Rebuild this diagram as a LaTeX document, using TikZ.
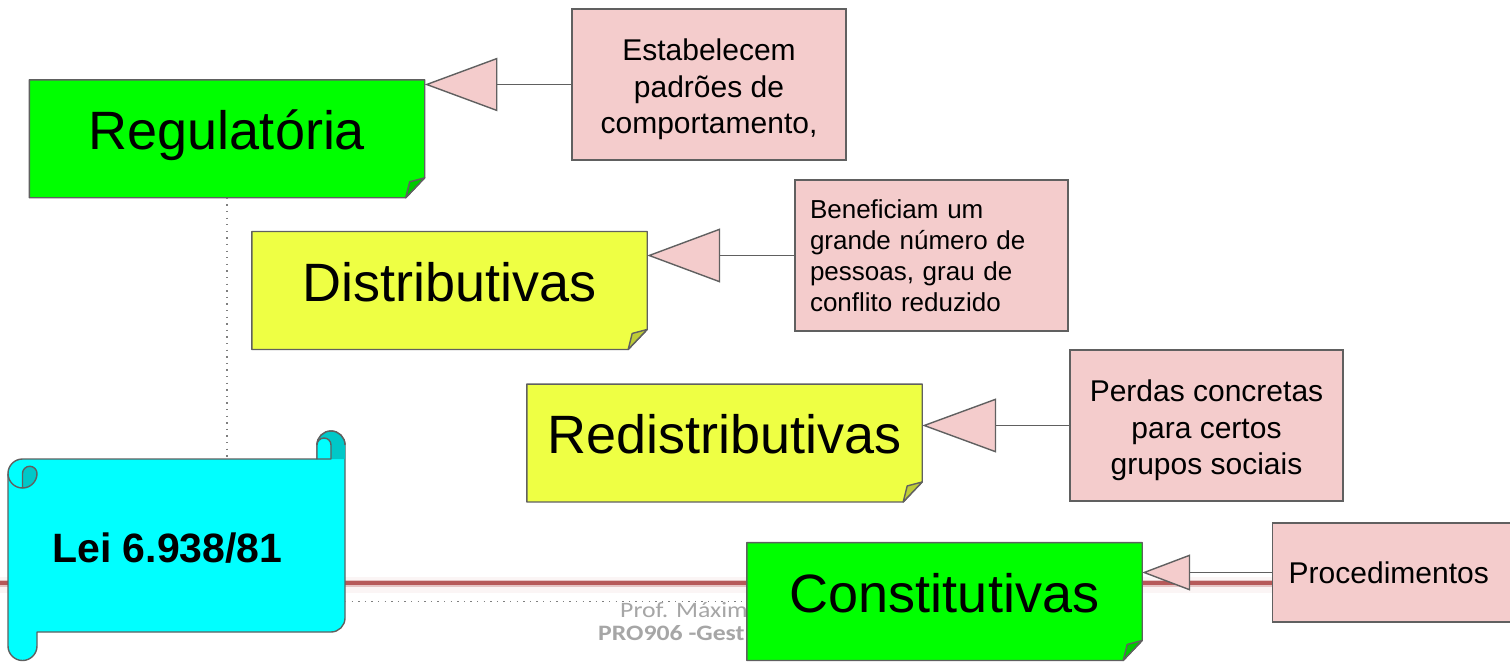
\documentclass[tikz,border=0pt]{standalone}
\usepackage{fontspec}
\setmainfont{Liberation Sans}
\newfontfamily\footfont{Carlito}
\usetikzlibrary{arrows.meta,calc}
\definecolor{lc}{HTML}{606060}
\definecolor{notegreen}{HTML}{00FF00}
\definecolor{notegreendark}{HTML}{00C800}
\definecolor{noteyellow}{HTML}{EEFF44}
\definecolor{noteyellowdark}{HTML}{BECC36}
\definecolor{callpink}{HTML}{F4CCCC}
\definecolor{scrollcyan}{HTML}{00FFFF}
\definecolor{scrolldark}{HTML}{00C8C8}
\definecolor{footred}{HTML}{B65A5A}
\definecolor{footgray}{HTML}{A6A6A6}
\definecolor{dotgray}{HTML}{7F7F7F}
\pgfdeclarelayer{bottom}
\pgfdeclarelayer{back}
\pgfsetlayers{bottom,back,main}
\newcommand\drawfold[3]{%
  \begin{pgfonlayer}{back}
  \path[draw=lc,line width=1.4,fill=#2,line join=round]
    (#1.north west) -- (#1.north east) -- ($(#1.south east)+(0,-20)$)
    -- ($(#1.south east)+(-19,0)$) -- (#1.south west) -- cycle;
  \path[draw=lc,line width=1.4,fill=#3,line join=round]
    ($(#1.south east)+(-19,0)$) -- ($(#1.south east)+(-15,-16)$)
    -- ($(#1.south east)+(0,-20)$) -- cycle;
  \end{pgfonlayer}}
\newcommand\topstrut{\rule{0pt}{32pt}}
\begin{document}
\begin{tikzpicture}[x=1pt,y=-1pt,
  note/.style={inner sep=0, minimum width=395, minimum height=117.5,
    text height=37.8pt, text depth=16.2pt, font=\fontsize{54}{60}\selectfont},
  callout/.style={draw=lc, line width=1.4, fill=callpink, inner sep=0,
    minimum width=274, minimum height=151, align=center,
    font=\fontsize{30}{36.5}\selectfont},
  conn/.style={draw=lc, line width=1.4},
  dotline/.style={draw=dotgray, line width=1.3, dash pattern=on 1.3pt off 5.3pt},
  scrollline/.style={draw=lc, line width=1.4, line join=round},
  foot/.style={anchor=base west, inner sep=0, text=footgray}
]
\useasboundingbox (0,0) rectangle (1510,663);

% footer decoration (slide background)
\begin{pgfonlayer}{bottom}
  \fill[white] (0,0) rectangle (1510,663);
  \draw[line width=16, color=footred!6] (0,585) -- (1272,585);
  \draw[line width=7, color=footred!35] (0,583.5) -- (1272,583.5);
  \draw[line width=3.5, color=footred] (0,583) -- (1272,583);
  \node[foot, font=\footfont\fontsize{22}{24}\selectfont] (prof) at (620,617) {\scalebox{1.17}[1]{Prof. Máxim}};
  \node[foot, font=\footfont\bfseries\fontsize{22}{24}\selectfont] (course) at (598,640) {\scalebox{1.17}[1]{PRO906 -Gest}};
\end{pgfonlayer}

% notes
\node[note] (reg) at (227,138.85) {Regulatória};
\drawfold{reg}{notegreen}{notegreendark}
\node[note] (dist) at (449.5,290.5) {Distributivas};
\drawfold{dist}{noteyellow}{noteyellowdark}
\node[note] (redis) at (724.5,443) {Redistributivas};
\drawfold{redis}{noteyellow}{noteyellowdark}
\node[note] (cons) at (944.5,601.5) {Constitutivas};
\drawfold{cons}{notegreen}{notegreendark}

% callouts
\node[callout] (c1) at (709,84.5) {\topstrut Estabelecem\\padrões de\\comportamento,};
\node[callout, minimum width=273, inner xsep=15, text width=243, align=left,
  font=\fontsize{26}{31}\selectfont] (c2) at (931.5,255.5)
  {Beneficiam um\\grande número de\\pessoas, grau de\\conflito reduzido};
\node[callout, minimum width=273] (c3) at (1206.5,425.5) {\topstrut Perdas concretas\\para certos\\grupos sociais};
\node[callout, anchor=west, minimum width=0, minimum height=99, inner xsep=16,
  text width=212, align=left] (c4) at (1272,572.5) {Procedimentos};

\draw[conn, -{Triangle[length=72.7pt,width=53.4pt,fill=callpink]}] (c1.west) -- (c1.west -| reg.east);
\draw[conn, -{Triangle[length=73pt,width=54pt,fill=callpink]}] (c2.west) -- (c2.west -| dist.east);
\draw[conn, -{Triangle[length=74pt,width=54pt,fill=callpink]}] (c3.west) -- (c3.west -| redis.east);
\draw[conn, -{Triangle[length=48pt,width=36pt,fill=callpink]}] (c4.west) -- (c4.west -| cons.east);

% scroll
\path[scrollline, fill=scrollcyan]
  (22.5,459) -- (317,459) -- (317,445) arc[start angle=180, end angle=360, radius=14]
  -- (345,618) arc[start angle=0, end angle=90, radius=14]
  -- (37,632) -- (37,646) arc[start angle=0, end angle=180, radius=14.5]
  -- (8,473.5) arc[start angle=180, end angle=270, radius=14.5] -- cycle;
\path[fill=scrolldark] (317,459) -- (317,445) arc[start angle=180, end angle=360, radius=14] -- (345,459) -- cycle;
\draw[scrollline] (317,445) arc[start angle=180, end angle=360, radius=14];
\path[scrollline, fill=scrollcyan] (317,459) -- (317,445) arc[start angle=180, end angle=360, radius=7] -- (331,459) -- cycle;
\path[scrollline, fill=scrolldark] (22.5,473.5) arc[start angle=180, end angle=360, radius=7.25]
  arc[start angle=0, end angle=90, radius=14.5] -- cycle;
\draw[scrollline] (8,473.5) arc[start angle=180, end angle=90, radius=14.5];
\node[anchor=base, inner sep=0, font=\bfseries\fontsize{41}{48}\selectfont] (law) at (167.5,562) {Lei 6.938/81};
\coordinate (scrolltop) at (227,459);
\coordinate (scrollexit) at (345,601.5);

% dotted connectors
\draw[dotline] (reg.south) -- (scrolltop);
\draw[dotline] (scrollexit) -- (scrollexit -| cons.west);
\end{tikzpicture}
\end{document}
